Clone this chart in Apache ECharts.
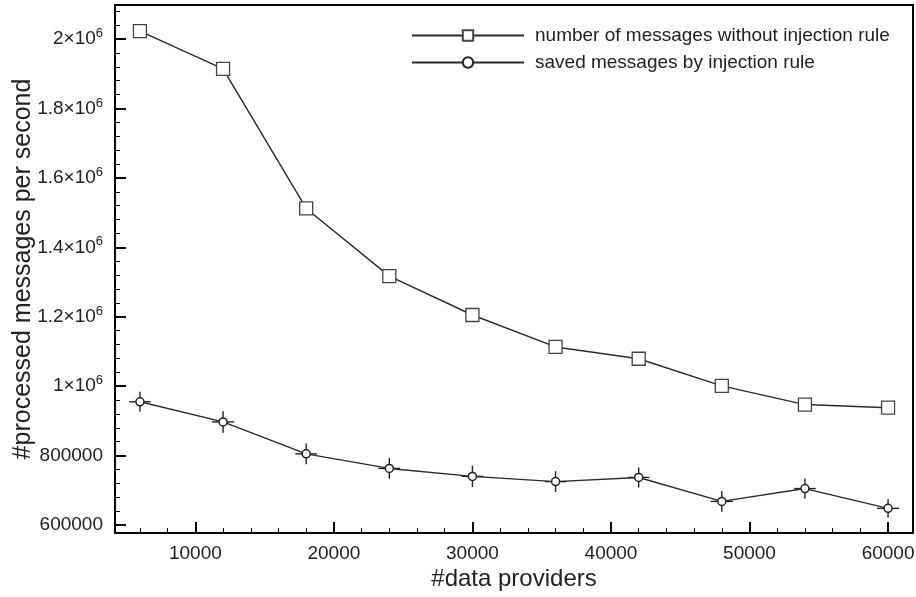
<!DOCTYPE html>
<html>
<head>
<meta charset="utf-8">
<script src="https://cdn.jsdelivr.net/npm/echarts@6/dist/echarts.min.js"></script>
<style>html,body{margin:0;padding:0;background:#fff}#c{width:916px;height:597px}</style>
</head>
<body>
<div id="c"></div>
<script>
// ---- data ----
const providers = [6000, 12000, 18000, 24000, 30000, 36000, 42000, 48000, 54000, 60000];
const withoutRule = [2023000, 1914000, 1512000, 1317000, 1205000, 1113000, 1079000, 1001000, 947000, 938000];
const savedByRule = [955000, 897000, 805000, 763000, 740000, 725000, 737000, 668000, 705000, 648000];
const savedErrY = [29000, 31000, 30000, 30000, 31000, 30000, 29000, 30000, 29000, 26000];
const savedErrX = [780, 800, 780, 780, 780, 780, 780, 800, 780, 800];
const xTicks = [10000, 20000, 30000, 40000, 50000, 60000];
const yTicks = [600000, 800000, 1000000, 1200000, 1400000, 1600000, 1800000, 2000000];
const seriesNames = ['number of messages without injection rule', 'saved messages by injection rule'];

// minor tick positions (between major ticks)
const xMinor = [];
for (let v = 6000; v <= 60000; v += 2000) xMinor.push(v);
const yMinor = [];
for (let v = 600000; v <= 2080000; v += 40000) yMinor.push(v);

const X_MIN = 4200, X_MAX = 61800, Y_MIN = 577000, Y_MAX = 2098000;
const FONT = '"Liberation Sans", Arial, Helvetica, sans-serif';

function yLabel(v) {
  if (v >= 1000000) return '{n|' + (v / 1000000) + '×10}{s|6}';
  return '{n|' + v + '}';
}

const chart = echarts.init(document.getElementById('c'), null, {renderer: 'canvas'});
chart.setOption({
  animation: false,
  backgroundColor: '#fff',
  textStyle: {fontFamily: FONT},
  grid: {left: 115, right: 3, top: 5, bottom: 64, show: true, borderColor: '#000', borderWidth: 2,
         backgroundColor: 'transparent', containLabel: false, outerBoundsMode: 'none'},
  legend: {
    orient: 'vertical', left: 406, top: 21, itemWidth: 112, itemHeight: 13, itemGap: 8,
    textStyle: {fontSize: 19, color: '#222', fontFamily: FONT, padding: [0, 0, 0, 6]},
    data: [{name: seriesNames[0]}, {name: seriesNames[1]}]
  },
  xAxis: [{
    type: 'value', min: X_MIN, max: X_MAX, position: 'bottom',
    name: '#data providers', nameLocation: 'middle', nameGap: 34, nameMoveOverlap: false,
    nameTextStyle: {fontSize: 24, color: '#222', fontFamily: FONT},
    axisLine: {show: false},
    splitLine: {show: false},
    axisTick: {show: true, inside: true, length: 11, lineStyle: {color: '#000', width: 2}, customValues: xTicks},
    axisLabel: {show: true, customValues: xTicks, fontSize: 19, color: '#222', margin: 11, fontFamily: FONT,
                formatter: v => String(v)}
  }, {
    type: 'value', min: X_MIN, max: X_MAX, position: 'bottom', gridIndex: 0,
    axisLine: {show: false}, splitLine: {show: false}, axisLabel: {show: false},
    axisTick: {show: true, inside: true, length: 5, lineStyle: {color: '#000', width: 1}, customValues: xMinor}
  }],
  yAxis: [{
    type: 'value', min: Y_MIN, max: Y_MAX, position: 'left',
    name: '#processed messages per second', nameLocation: 'middle', nameGap: 79, nameRotate: 90,
    nameMoveOverlap: false,
    nameTextStyle: {fontSize: 25, color: '#222', fontFamily: FONT},
    axisLine: {show: false},
    splitLine: {show: false},
    axisTick: {show: true, inside: true, length: 11, lineStyle: {color: '#000', width: 2}, customValues: yTicks},
    axisLabel: {
      show: true, customValues: yTicks, margin: 12, color: '#222', fontFamily: FONT,
      formatter: yLabel,
      rich: {
        n: {fontSize: 19, color: '#222', fontFamily: FONT},
        s: {fontSize: 13, color: '#222', fontFamily: FONT, padding: [0, 0, 11, 0]}
      }
    }
  }, {
    type: 'value', min: Y_MIN, max: Y_MAX, position: 'left', gridIndex: 0,
    axisLine: {show: false}, splitLine: {show: false}, axisLabel: {show: false},
    axisTick: {show: true, inside: true, length: 5, lineStyle: {color: '#000', width: 1}, customValues: yMinor}
  }],
  series: [{
    name: seriesNames[0], type: 'line', xAxisIndex: 0, yAxisIndex: 0,
    data: providers.map((p, i) => [p, withoutRule[i]]),
    symbol: 'rect', symbolSize: 13,
    lineStyle: {color: '#2a2a2a', width: 1.4},
    itemStyle: {color: '#fff', borderColor: '#444', borderWidth: 1.3},
    z: 3
  }, {
    name: 'errbars', type: 'custom', xAxisIndex: 0, yAxisIndex: 0,
    data: providers.map((p, i) => [p, savedByRule[i], savedErrX[i], savedErrY[i]]),
    renderItem: function (params, api) {
      const x = api.value(0), y = api.value(1), ex = api.value(2), ey = api.value(3);
      const t = api.coord([x, y + ey]), b = api.coord([x, y - ey]);
      const l = api.coord([x - ex, y]), r = api.coord([x + ex, y]);
      const st = {stroke: '#222', lineWidth: 1.4};
      return {
        type: 'group', children: [
          {type: 'line', shape: {x1: t[0], y1: t[1], x2: b[0], y2: b[1]}, style: st},
          {type: 'line', shape: {x1: l[0], y1: l[1], x2: r[0], y2: r[1]}, style: st}
        ]
      };
    },
    z: 2, silent: true
  }, {
    name: seriesNames[1], type: 'line', xAxisIndex: 0, yAxisIndex: 0,
    data: providers.map((p, i) => [p, savedByRule[i]]),
    symbol: 'circle', symbolSize: 8,
    lineStyle: {color: '#2a2a2a', width: 1.4},
    itemStyle: {color: '#fff', borderColor: '#222', borderWidth: 1.5},
    z: 4
  }]
});
</script>
</body>
</html>
